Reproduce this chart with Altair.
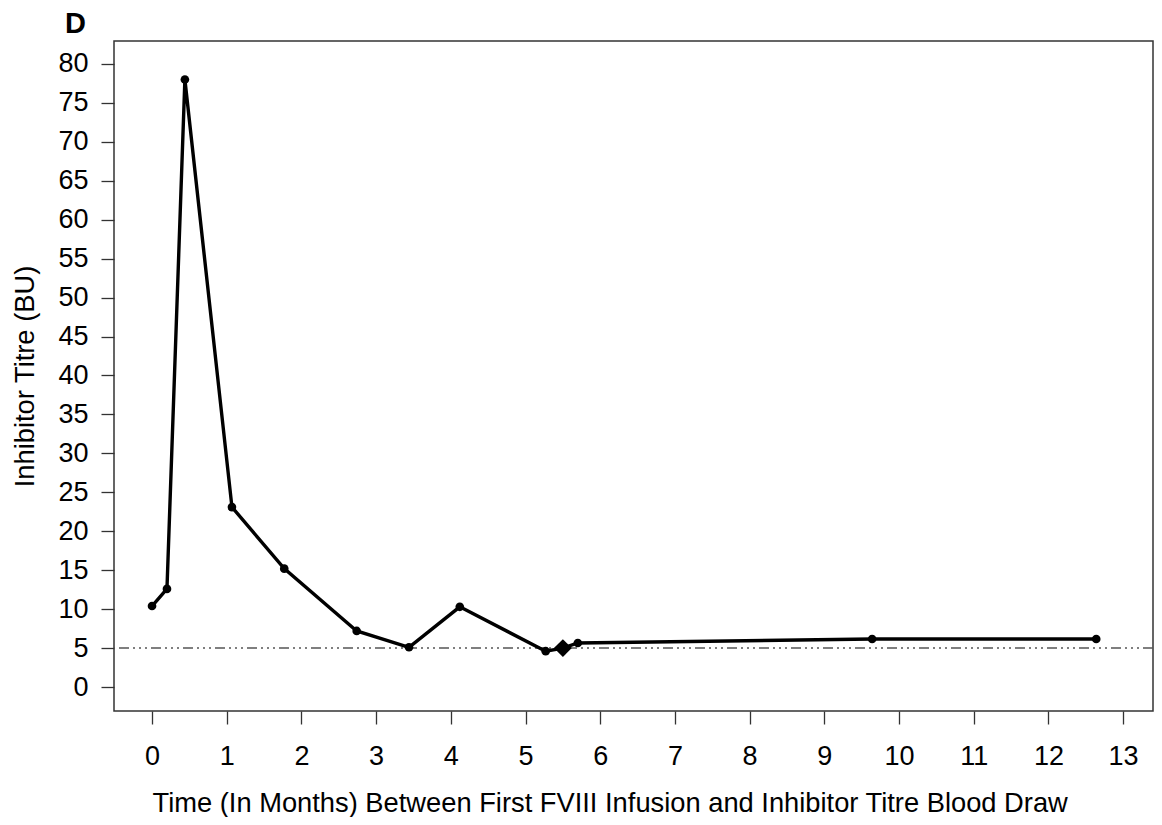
import altair as alt
import pandas as pd

# Data
months = [0.0, 0.20, 0.44, 1.07, 1.77, 2.74, 3.44, 4.12, 5.27, 5.50, 5.70, 9.64, 12.64]
titre = [10.4, 12.6, 78.0, 23.1, 15.2, 7.2, 5.1, 10.3, 4.6, 5.0, 5.65, 6.16, 6.16]
marker = ["circle"] * 9 + ["diamond"] + ["circle"] * 3
threshold = [5]
x_ticks = list(range(0, 14))
y_ticks = list(range(0, 81, 5))
panel_label = ["D"]

df = pd.DataFrame({"month": months, "titre": titre, "marker": marker})
df_circ = df[df["marker"] == "circle"]
df_diam = df[df["marker"] == "diamond"]
df_thr = pd.DataFrame({"y": threshold})
df_lab = pd.DataFrame({"t": panel_label})

FONT = "Liberation Sans"

xs = alt.Scale(domain=[-0.509, 13.40], nice=False, zero=False)
ys = alt.Scale(domain=[-3.08, 82.95], nice=False, zero=False)

x_axis = alt.Axis(
    values=x_ticks, title="Time (In Months) Between First FVIII Infusion and Inhibitor Titre Blood Draw",
    domain=False, grid=False, tickSize=13, tickColor="#333", tickWidth=1.3,
    labelPadding=19, labelFontSize=27, labelFont=FONT, labelColor="#000",
    titleFont=FONT, titleFontSize=27.3, titleFontWeight="normal", titleColor="#000",
    titleX=38, titleY=100, titleAlign="left", titleBaseline="alphabetic", format="d",
)
y_axis = alt.Axis(
    values=y_ticks, title="Inhibitor Titre (BU)",
    domain=False, grid=False, tickSize=13, tickColor="#333", tickWidth=1.3,
    labelPadding=13, labelFontSize=27, labelFont=FONT, labelColor="#000",
    titleFont=FONT, titleFontSize=27.3, titleFontWeight="normal", titleColor="#000",
    titleX=-89, titleY=335, titleAlign="center", titleBaseline="middle", titleAngle=270,
)

base = alt.Chart(df)

rule = alt.Chart(df_thr).mark_rule(
    color="#555", strokeWidth=1.5, strokeDash=[10, 4, 2, 4, 2, 4, 2, 4]
).encode(y=alt.Y("y:Q", scale=ys, axis=y_axis))

line = base.mark_line(color="#000", strokeWidth=3.4).encode(
    x=alt.X("month:Q", scale=xs, axis=x_axis),
    y=alt.Y("titre:Q", scale=ys, axis=y_axis),
    order="month:Q",
)

pts = alt.Chart(df_circ).mark_point(shape="circle", filled=True, color="#000", size=75, opacity=1).encode(
    x=alt.X("month:Q", scale=xs), y=alt.Y("titre:Q", scale=ys)
)
diam = alt.Chart(df_diam).mark_point(shape="diamond", filled=True, color="#000", size=320, opacity=1).encode(
    x=alt.X("month:Q", scale=xs), y=alt.Y("titre:Q", scale=ys)
)

label = alt.Chart(df_lab).mark_text(
    font=FONT, fontSize=29, fontWeight="bold", align="left", baseline="alphabetic", color="#000"
).encode(text="t:N", x=alt.value(-49), y=alt.value(-8))

chart = alt.layer(rule, line, pts, diam, label).properties(
    width=1039, height=670,
    autosize=alt.AutoSizeParams(type="none"),
    padding={"left": 106, "top": 33, "right": 1, "bottom": 106},
    background="#ffffff",
).configure_view(stroke="#333", strokeWidth=1.5)

chart.save("out.html", embed_options={"renderer": "svg", "actions": False})
